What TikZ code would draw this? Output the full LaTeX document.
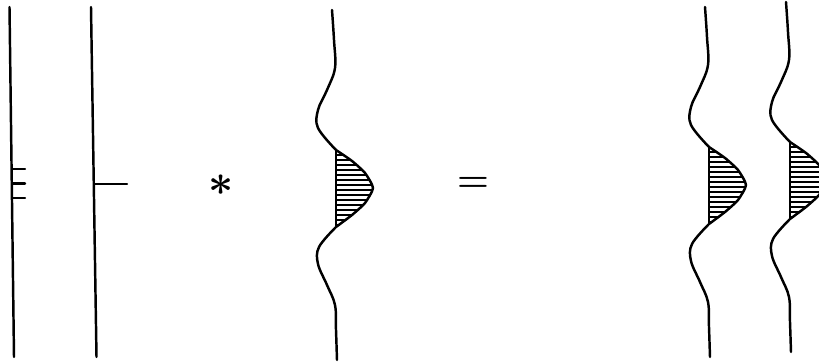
\documentclass[tikz,border=0pt]{standalone}
\usepackage{amsmath}
\usepackage{tikz}
\usetikzlibrary{calc}

\begin{document}
\begin{tikzpicture}[x=.02cm,y=-.02cm,
  spike/.style={line width=1.4pt,line cap=round},
  trace/.style={line width=1.4pt,line join=round,line cap=round},
  hatch/.style={line width=1.6pt},
  sign/.style={font=\fontsize{21}{24}\selectfont\boldmath,inner sep=0pt}]

\path[use as bounding box] (0,0) rectangle (819,364);
\clip (0,0) rectangle (819,364);

% reflectivity series
\draw[spike] (9.5,7)--(14,357);
\draw[spike] (12.6,169)--(25,169);
\draw[spike] (13,183.5)--(25,183.5);
\draw[spike] (13.3,198)--(25,198);
\draw[spike] (91,7)--(96.5,357);
\draw[spike] (94.5,184)--(127,184);

\node[sign,font=\fontsize{24}{26}\selectfont\boldmath] (conv) at (221,185) {$\ast$};
\node[sign] (eq) at (473,184) {$=$};

% wavelet and the two output traces
\foreach \dx/\dy in {0/0,373/-3,454/-8}{
  \begin{scope}[shift={(\dx,\dy)}]
    \begin{scope}
      \clip (336,150) -- plot[smooth,tension=.35] coordinates
        {(336,150) (352,161) (365,173) (373,188) (365,203) (352,215) (336,227)} -- cycle;
      \foreach \hy in {150,155,...,230}
        \draw[hatch] (330,\hy)--(380,\hy);
    \end{scope}
    \draw[trace] (336,150)--(336,227);
    \draw[trace] plot[smooth,tension=.6] coordinates
        {(332,10) (334,40) (335,68) (327,90) (318,110) (318,128) (336,150)}
      -- plot[smooth,tension=.35] coordinates
        {(336,150) (352,161) (365,173) (373,188) (365,203) (352,215) (336,227)}
      -- plot[smooth,tension=.6] coordinates
        {(336,227) (319,247) (318,264) (327,285) (335,305) (336,330) (337,360)};
  \end{scope}
}

\end{tikzpicture}
\end{document}
